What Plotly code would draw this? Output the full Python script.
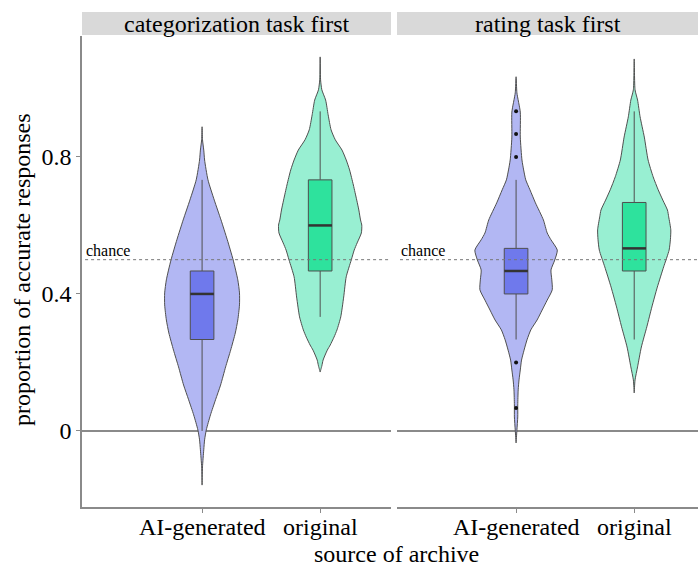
import plotly.graph_objects as go

# ---------------- data ----------------
panels = ["categorization task first", "rating task first"]
categories = ["AI-generated", "original"]

# box statistics per panel, per category (AI-generated, original)
q1 = [[0.267, 0.467], [0.400, 0.467]]
median = [[0.400, 0.600], [0.467, 0.533]]
q3 = [[0.467, 0.733], [0.533, 0.667]]
lower_whisker = [[0.000, 0.333], [0.267, 0.267]]
upper_whisker = [[0.733, 0.933], [0.733, 0.933]]
outliers = [[[], []], [[0.933, 0.867, 0.800, 0.200, 0.067], []]]

# violin density profiles (value grid, relative density)
v_cat_ai_y = [0.888, 0.850, 0.820, 0.791, 0.733, 0.674, 0.616, 0.558, 0.499, 0.441, 0.403, 0.368,
              0.324, 0.286, 0.236, 0.187, 0.134, 0.091, 0.047, 0.003, -0.026, -0.055, -0.105, -0.158]
v_cat_ai_d = [0, .01, .04, .06, .14, .29, .45, .60, .74, .85, .89, .89,
              .85, .79, .68, .56, .44, .32, .20, .10, .06, .04, .01, 0]

v_cat_or_y = [1.092, 1.025, 0.996, 0.966, 0.923, 0.879, 0.850, 0.820, 0.791, 0.762, 0.718, 0.674,
              0.645, 0.616, 0.601, 0.578, 0.549, 0.528, 0.499, 0.450, 0.391, 0.333, 0.295, 0.274,
              0.251, 0.236, 0.207, 0.190, 0.172]
v_cat_or_d = [0, .01, .04, .13, .19, .26, .36, .52, .62, .70, .79, .87,
              .92, .96, .99, .98, .88, .81, .74, .62, .56, .49, .40, .33,
              .24, .17, .07, .04, 0]

v_rat_ai_y = [1.034, 0.987, 0.931, 0.858, 0.791, 0.762, 0.733, 0.704, 0.666, 0.616, 0.578, 0.558,
              0.528, 0.499, 0.470, 0.441, 0.412, 0.382, 0.353, 0.324, 0.295, 0.266, 0.236, 0.207,
              0.178, 0.149, 0.120, 0.076, 0.041, 0.003, -0.035]
v_rat_ai_d = [0, .02, .10, .10, .14, .18, .23, .33, .46, .65, .74, .83,
              .98, .92, .83, .85, .86, .74, .62, .50, .35, .26, .19, .13,
              .10, .07, .05, .04, .04, .02, 0]

v_rat_or_y = [1.086, 0.996, 0.966, 0.917, 0.858, 0.791, 0.742, 0.704, 0.674, 0.645, 0.625, 0.587,
              0.558, 0.528, 0.479, 0.420, 0.362, 0.304, 0.245, 0.187, 0.149, 0.111]
v_rat_or_d = [0, .02, .08, .14, .24, .33, .45, .57, .68, .79, .82, .87,
              .86, .83, .70, .55, .42, .30, .17, .08, .02, 0]

violins = [[(v_cat_ai_y, v_cat_ai_d), (v_cat_or_y, v_cat_or_d)],
           [(v_rat_ai_y, v_rat_ai_d), (v_rat_or_y, v_rat_or_d)]]

y_tick_vals = [0, 0.4, 0.8]
y_tick_text = ["0", "0.4", "0.8"]
chance_level = 0.5

# ---------------- styling ----------------
W, H = 698, 567
FONT = "Liberation Serif"
FS = 24
violin_fill = ["#b2b7f3", "#98efd2"]
box_fill = ["#6f79ec", "#2ee29d"]
outline = "#4f4f4f"
axis_gray = "#8a8a8a"
VSCALE = 0.356   # half width of a density of 1, in x units
BOXW = 0.2

fig = go.Figure()
for pi in range(len(panels)):
    xa = "x" if pi == 0 else "x2"
    ya = "y" if pi == 0 else "y2"
    for ci in range(len(categories)):
        pos = ci + 1
        ys, ds = violins[pi][ci]
        xr = [pos + d * VSCALE for d in ds]
        xl = [pos - d * VSCALE for d in ds]
        common = dict(xaxis=xa, yaxis=ya, hoverinfo="skip", showlegend=False)
        # violin outline
        fig.add_trace(go.Scatter(
            x=xr + xl[::-1], y=ys + ys[::-1], mode="lines", fill="toself",
            fillcolor=violin_fill[ci],
            line=dict(color=outline, width=1, shape="spline", smoothing=0.6), **common))
        # whiskers
        fig.add_trace(go.Scatter(
            x=[pos, pos, None, pos, pos],
            y=[q3[pi][ci], upper_whisker[pi][ci], None, q1[pi][ci], lower_whisker[pi][ci]],
            mode="lines", line=dict(color=outline, width=1), **common))
        # box
        bl, br = pos - BOXW / 2, pos + BOXW / 2
        fig.add_trace(go.Scatter(
            x=[bl, br, br, bl, bl],
            y=[q1[pi][ci], q1[pi][ci], q3[pi][ci], q3[pi][ci], q1[pi][ci]],
            mode="lines", fill="toself", fillcolor=box_fill[ci],
            line=dict(color=outline, width=1), **common))
        # median
        fig.add_trace(go.Scatter(
            x=[bl, br], y=[median[pi][ci]] * 2, mode="lines",
            line=dict(color="#333333", width=2.5), **common))
        if outliers[pi][ci]:
            fig.add_trace(go.Scatter(
                x=[pos] * len(outliers[pi][ci]), y=outliers[pi][ci], mode="markers",
                marker=dict(color="#111111", size=4), **common))

ydom = [1 - 507 / H, 1 - 36 / H]
common_x = dict(tickvals=[1, 2], ticktext=categories, showticklabels=False,
                ticks="outside", ticklen=4,
                tickcolor=axis_gray, showline=True, linecolor=axis_gray, linewidth=1.5,
                showgrid=False, zeroline=False)
fig.update_layout(
    width=W, height=H, margin=dict(l=0, r=0, t=0, b=0),
    plot_bgcolor="white", paper_bgcolor="white",
    xaxis=dict(domain=[82 / W, 391 / W], range=[-0.017, 2.60], anchor="y", **common_x),
    xaxis2=dict(domain=[397 / W, 1.0], range=[-0.008, 2.54], anchor="y2", **common_x),
    yaxis=dict(domain=ydom, range=[-0.222, 1.153], tickvals=y_tick_vals, ticktext=y_tick_text,
               ticks="outside", ticklen=4, tickcolor=axis_gray, showline=True,
               linecolor=axis_gray, linewidth=1.5, showgrid=False, zeroline=True,
               zerolinecolor=axis_gray, zerolinewidth=1.5,
               tickfont=dict(family=FONT, size=FS, color="black"), anchor="x"),
    yaxis2=dict(domain=ydom, matches="y", showticklabels=False, ticks="", showline=False,
                showgrid=False, zeroline=True, zerolinecolor=axis_gray, zerolinewidth=1.5,
                anchor="x2"),
)

strip_x = [(82 / W, 391 / W), (397 / W, 1.0)]
for pi, panel in enumerate(panels):
    x0, x1 = strip_x[pi]
    fig.add_shape(type="rect", xref="paper", yref="paper", x0=x0, x1=x1,
                  y0=1 - 35 / H, y1=1 - 12 / H, fillcolor="#d9d9d9", line=dict(width=0), layer="below")
    fig.add_annotation(xref="paper", yref="paper", x=(x0 + x1) / 2, y=1 - 23.5 / H,
                       text=panel, showarrow=False, xanchor="center", yanchor="middle",
                       font=dict(family=FONT, size=FS, color="black"))
    xr = "x domain" if pi == 0 else "x2 domain"
    xd = "x" if pi == 0 else "x2"
    yr = "y" if pi == 0 else "y2"
    fig.add_shape(type="line", xref=xr, yref=yr, x0=0.01, x1=1, y0=chance_level, y1=chance_level,
                  line=dict(color="#777777", width=1, dash="dot"))
    fig.add_annotation(xref=xr, yref=yr, x=0.008, y=chance_level, text="chance", showarrow=False,
                       xanchor="left", yanchor="bottom", yshift=-1,
                       font=dict(family=FONT, size=16, color="black"))
    # category tick labels
    for ci, cat in enumerate(categories):
        fig.add_annotation(xref=xd, yref="paper", x=ci + 1, y=1 - 527 / H, text=cat,
                           showarrow=False, xanchor="center", yanchor="middle",
                           font=dict(family=FONT, size=FS, color="black"))

fig.add_annotation(xref="paper", yref="paper", x=22 / W, y=1 - 270 / H,
                   text="proportion of accurate responses", textangle=-90, showarrow=False,
                   xanchor="center", yanchor="middle",
                   font=dict(family=FONT, size=FS, color="black"))
fig.add_annotation(xref="paper", yref="paper", x=396 / W, y=1 - 554 / H,
                   text="source of archive", showarrow=False, xanchor="center", yanchor="middle",
                   font=dict(family=FONT, size=FS, color="black"))

fig.write_html("out.html", config={"displayModeBar": False},
               post_script="document.body.style.margin='0';document.body.style.overflow='hidden';")
